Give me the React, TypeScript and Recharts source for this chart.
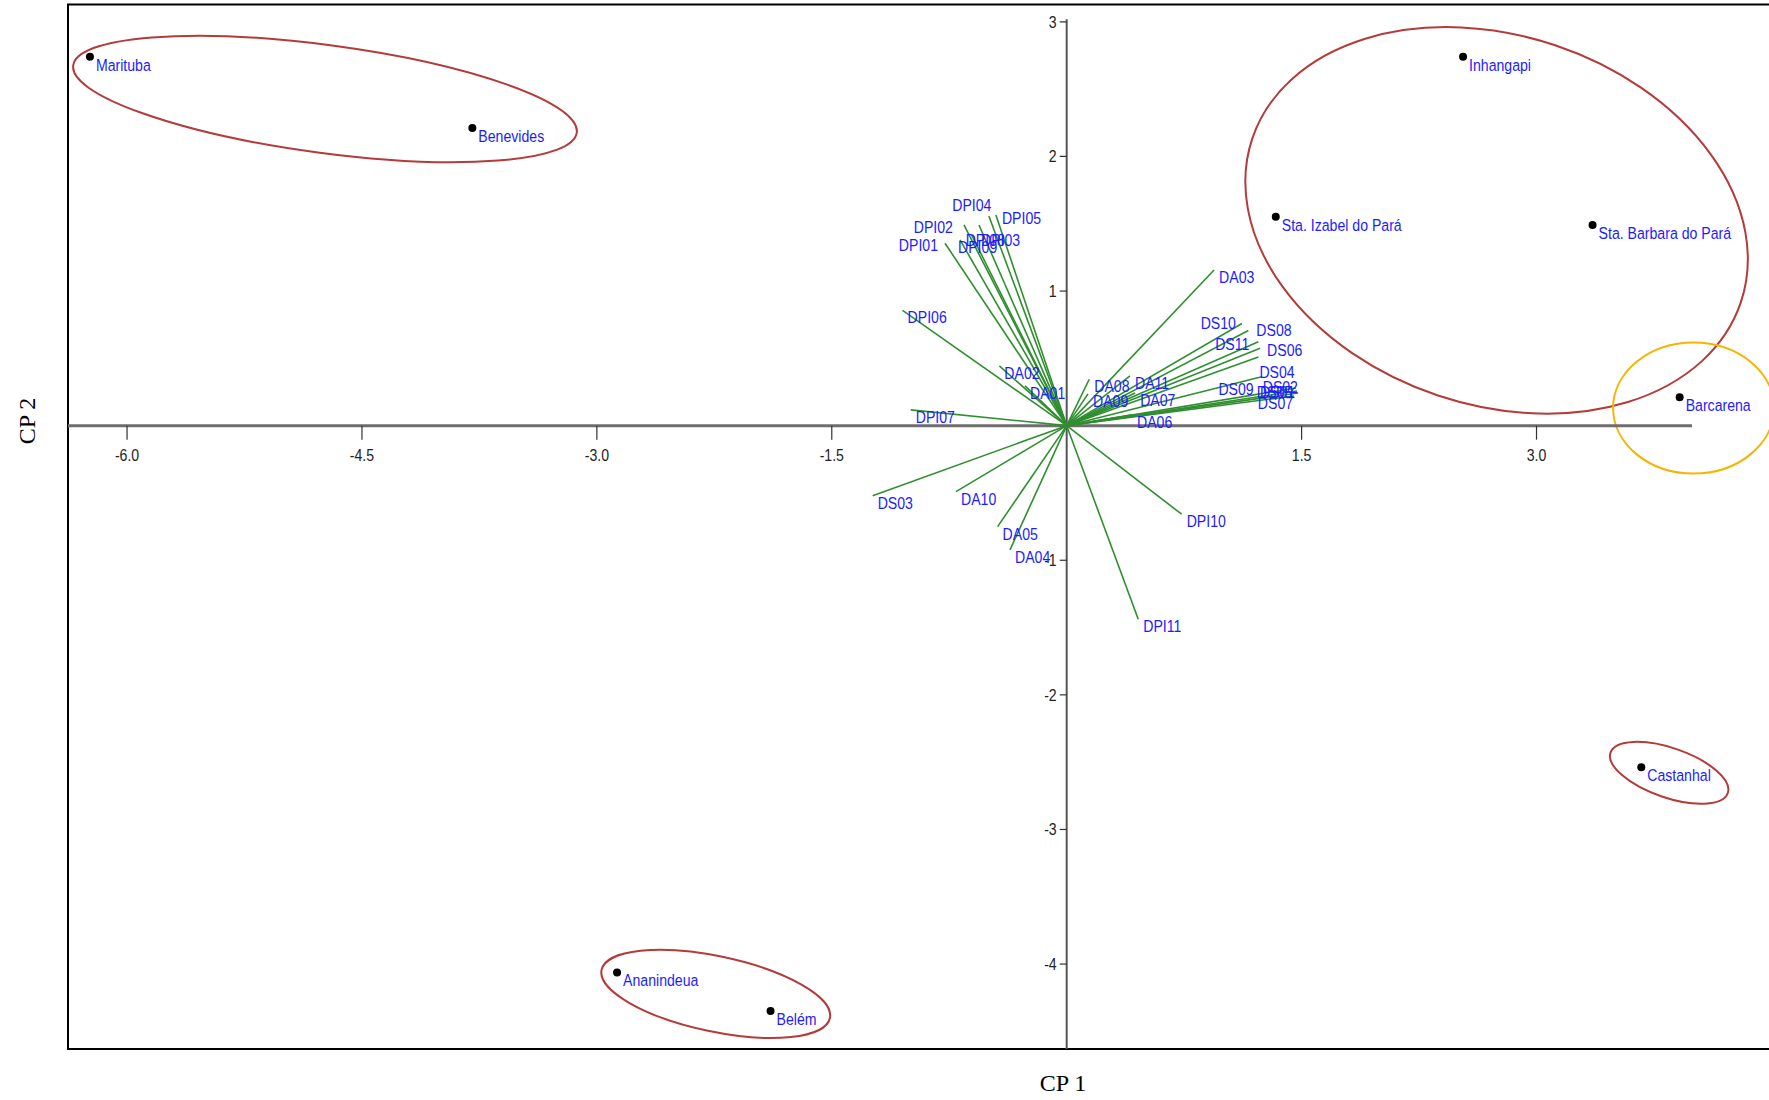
import {
  ScatterChart,
  Scatter,
  XAxis,
  YAxis,
  ReferenceLine,
  ReferenceArea,
} from "recharts";

// sites (scores on CP1 / CP2)
const siteNames = [
  "Marituba",
  "Benevides",
  "Inhangapi",
  "Sta. Izabel do Pará",
  "Sta. Barbara do Pará",
  "Barcarena",
  "Castanhal",
  "Ananindeua",
  "Belém",
];
const siteCP1 = [-6.237, -3.795, 2.531, 1.335, 3.358, 3.914, 3.669, -2.871, -1.891];
const siteCP2 = [2.741, 2.212, 2.741, 1.553, 1.491, 0.211, -2.537, -4.062, -4.348];

// variable loadings (vector tips)
const varNames = [
  "DPI01", "DPI02", "DPI03", "DPI04", "DPI05", "DPI06", "DPI07", "DPI08", "DPI09", "DPI10", "DPI11",
  "DA01", "DA02", "DA03", "DA04", "DA05", "DA06", "DA07", "DA08", "DA09", "DA10", "DA11",
  "DS01", "DS02", "DS03", "DS04", "DS05", "DS06", "DS07", "DS08", "DS09", "DS10", "DS11",
];
const varCP1 = [
  -0.777, -0.656, -0.56, -0.497, -0.452, -1.048, -0.996, -0.607, -0.681, 0.734, 0.457,
  -0.266, -0.43, 0.941, -0.362, -0.441, 0.417, 0.437, 0.144, 0.136, -0.707, 0.404,
  1.478, 1.464, -1.239, 1.224, 1.471, 1.235, 1.452, 1.16, 1.245, 1.119, 1.224,
];
const varCP2 = [
  1.355, 1.491, 1.491, 1.558, 1.565, 0.857, 0.117, 1.417, 1.38, -0.658, -1.438,
  0.296, 0.444, 1.156, -0.923, -0.75, 0.08, 0.243, 0.345, 0.236, -0.49, 0.37,
  0.243, 0.28, -0.52, 0.51, 0.258, 0.575, 0.221, 0.707, 0.364, 0.759, 0.624,
];

const xTicks = [-6, -4.5, -3, -1.5, 1.5, 3];
const yTicks = [3, 2, 1, -1, -2, -3, -4];

// group outlines: centre and half-axes in data units
const groupCP1 = [-4.736, 2.745, 4.003, 3.847, -2.241];
const groupCP2 = [2.427, 1.525, 0.131, -2.579, -4.222];
const groupR1 = [1.622, 1.645, 0.514, 0.396, 0.745];
const groupR2 = [0.401, 1.372, 0.487, 0.184, 0.28];
const groupTilt = [7.6, 18.5, 0, 19, 11.9];
const groupColor = ["#b53a3a", "#b53a3a", "#f5b400", "#b53a3a", "#b53a3a"];

const X_DOMAIN: [number, number] = [-6.377, 4.625];
const Y_DOMAIN: [number, number] = [-4.631, 3.129];

const BLUE = "#1c1cff";
const GREEN = "#2f8f2f";
const FONT = "'Liberation Sans', Arial, sans-serif";

// label placement tweaks for crowded vectors
const labelNudge: Record<string, { dx: number; dy: number; anchor?: string }> = {
  DPI01: { dx: -7, dy: 2, anchor: "end" },
  DPI02: { dx: -11, dy: 2, anchor: "end" },
  DPI03: { dx: 2, dy: 15 },
  DPI04: { dx: -17, dy: -11, anchor: "middle" },
  DPI05: { dx: 6, dy: 3 },
  DPI08: { dx: -6, dy: 5 },
  DPI09: { dx: -2, dy: 7 },
  DS10: { dx: -6, dy: 0, anchor: "end" },
  DS08: { dx: 8, dy: 0 },
  DS11: { dx: -9, dy: 2, anchor: "end" },
  DS06: { dx: 7, dy: 2 },
  DS04: { dx: 1, dy: 15 },
  DS09: { dx: -8, dy: 12, anchor: "end" },
  DS02: { dx: 2, dy: -1, anchor: "end" },
  DS05: { dx: -5, dy: 1, anchor: "end" },
  DS01: { dx: -3, dy: -1, anchor: "end" },
  DS07: { dx: -1, dy: 7, anchor: "end" },
};

const sites = siteNames.map((name, i) => ({ name, x: siteCP1[i], y: siteCP2[i] }));
const vectors = varNames.map((name, i) => ({ name, x: varCP1[i], y: varCP2[i] }));
const xTickData = xTicks.map((v) => ({ x: v, y: 0 }));
const yTickData = yTicks.map((v) => ({ x: 0, y: v }));

function Squish({ x, y, text, anchor = "start", fill = BLUE, size = 17 }: any) {
  return (
    <text
      transform={`translate(${x},${y}) scale(0.83,1)`}
      textAnchor={anchor}
      dominantBaseline="central"
      fontFamily={FONT}
      fontSize={size}
      fill={fill}
    >
      {text}
    </text>
  );
}

export default function App() {
  return (
    <div style={{ position: "relative", width: 1769, height: 1100, overflow: "hidden", background: "#fff" }}>
      <style>{"body{margin:0}"}</style>
      <ScatterChart width={1792} height={1100} margin={{ top: 4.5, right: 1, bottom: 51, left: 68 }}>
        <XAxis type="number" dataKey="x" domain={X_DOMAIN} allowDataOverflow hide />
        <YAxis type="number" dataKey="y" domain={Y_DOMAIN} allowDataOverflow hide />

        <ReferenceArea
          x1={X_DOMAIN[0]}
          x2={X_DOMAIN[1]}
          y1={Y_DOMAIN[0]}
          y2={Y_DOMAIN[1]}
          fill="none"
          stroke="#000"
          strokeWidth={2}
          ifOverflow="visible"
        />

        {groupCP1.map((cx, i) => (
          <ReferenceArea
            key={"g" + i}
            x1={cx - groupR1[i]}
            x2={cx + groupR1[i]}
            y1={groupCP2[i] - groupR2[i]}
            y2={groupCP2[i] + groupR2[i]}
            ifOverflow="visible"
            shape={(p: any) => {
              const ex = p.x + p.width / 2;
              const ey = p.y + p.height / 2;
              return (
                <ellipse
                  cx={ex}
                  cy={ey}
                  rx={Math.abs(p.width) / 2}
                  ry={Math.abs(p.height) / 2}
                  transform={`rotate(${groupTilt[i]},${ex},${ey})`}
                  fill="none"
                  stroke={groupColor[i]}
                  strokeWidth={2}
                />
              );
            }}
          />
        ))}

        <ReferenceLine
          segment={[{ x: X_DOMAIN[0], y: 0 }, { x: 3.993, y: 0 }]}
          stroke="#6e6e6e"
          strokeWidth={3}
          ifOverflow="visible"
        />
        <ReferenceLine
          segment={[{ x: 0, y: 3.02 }, { x: 0, y: Y_DOMAIN[0] }]}
          stroke="#555"
          strokeWidth={2}
          ifOverflow="visible"
        />

        {vectors.map((v) => (
          <ReferenceLine
            key={v.name}
            segment={[{ x: 0, y: 0 }, { x: v.x, y: v.y }]}
            stroke={GREEN}
            strokeWidth={1.6}
            ifOverflow="visible"
          />
        ))}

        <Scatter
          data={xTickData}
          isAnimationActive={false}
          shape={(p: any) => (
            <g>
              <line x1={p.cx} y1={p.cy} x2={p.cx} y2={p.cy + 14} stroke="#333" strokeWidth={1.2} />
              <Squish x={p.cx} y={p.cy + 29} text={p.payload.x.toFixed(1)} anchor="middle" fill="#222" />
            </g>
          )}
        />
        <Scatter
          data={yTickData}
          isAnimationActive={false}
          shape={(p: any) => (
            <g>
              <line x1={p.cx - 7} y1={p.cy} x2={p.cx} y2={p.cy} stroke="#333" strokeWidth={1.2} />
              <Squish x={p.cx - 10} y={p.cy} text={String(p.payload.y)} anchor="end" fill="#222" />
            </g>
          )}
        />

        <Scatter
          data={vectors}
          isAnimationActive={false}
          shape={(p: any) => {
            const n = labelNudge[p.payload.name] || { dx: 5, dy: 7 };
            return (
              <Squish
                x={p.cx + n.dx}
                y={p.cy + n.dy}
                text={p.payload.name}
                anchor={n.anchor || "start"}
              />
            );
          }}
        />

        <Scatter
          data={sites}
          isAnimationActive={false}
          shape={(p: any) => (
            <g>
              <circle cx={p.cx} cy={p.cy} r={4} fill="#000" />
              <Squish x={p.cx + 6} y={p.cy + 8} text={p.payload.name} />
            </g>
          )}
        />
      </ScatterChart>

      <div
        style={{
          position: "absolute",
          left: 1063,
          top: 1083,
          transform: "translate(-50%,-50%)",
          fontFamily: "'Liberation Serif', 'Times New Roman', serif",
          fontSize: 24,
          whiteSpace: "nowrap",
        }}
      >
        CP 1
      </div>
      <div
        style={{
          position: "absolute",
          left: 27,
          top: 421,
          transform: "translate(-50%,-50%) rotate(-90deg)",
          fontFamily: "'Liberation Serif', 'Times New Roman', serif",
          fontSize: 24,
          whiteSpace: "nowrap",
        }}
      >
        CP 2
      </div>
    </div>
  );
}
